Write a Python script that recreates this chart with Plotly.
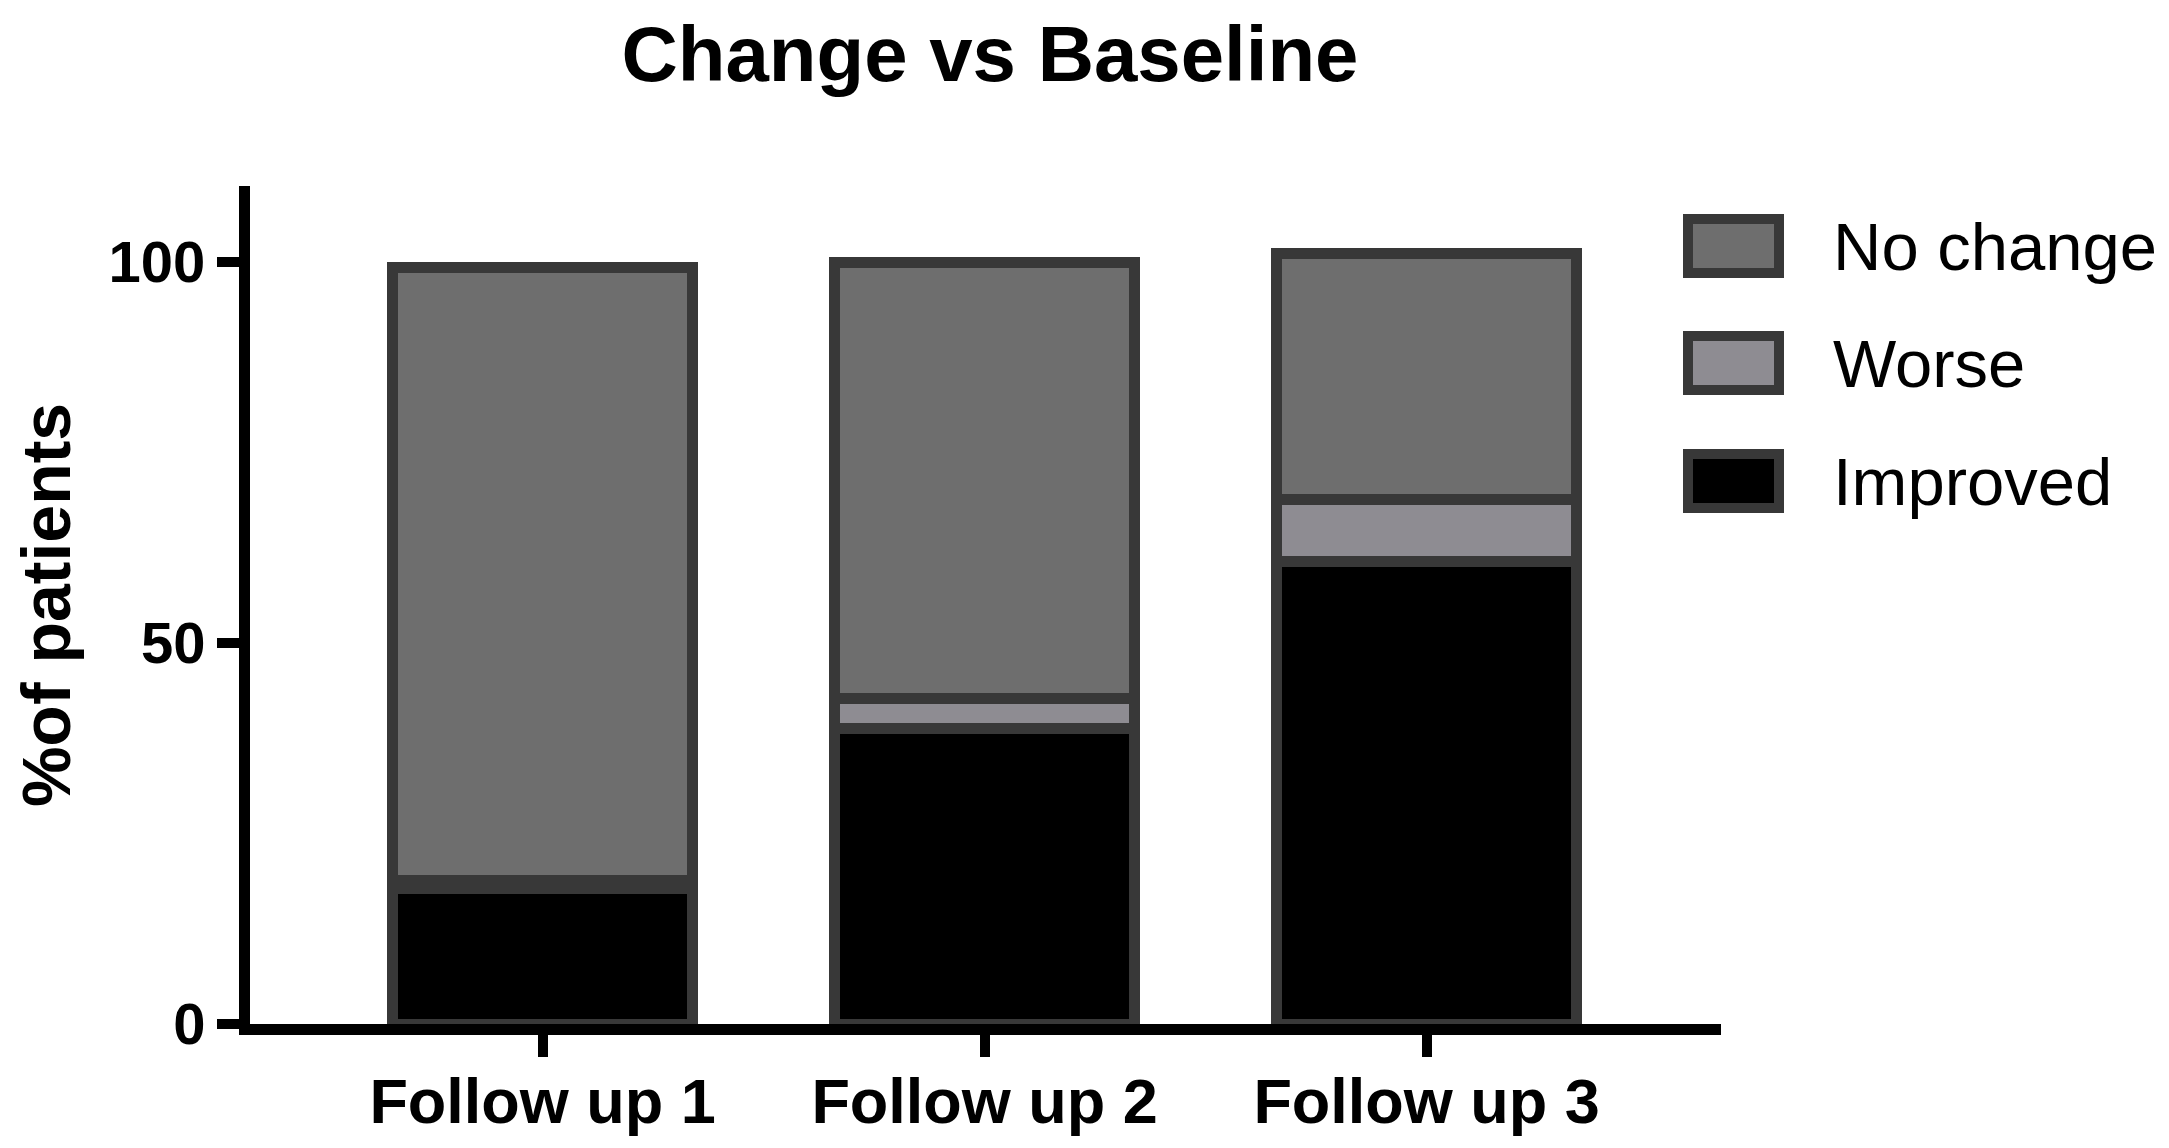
import plotly.graph_objects as go

# data (% of patients)
followups = ['Follow up 1', 'Follow up 2', 'Follow up 3']
improved = [17.8, 38.8, 60.7]
worse = [1.0, 3.9, 8.2]
no_change = [80.5, 57.3, 32.2]

y_ticks = [0, 50, 100]

series = [
    ('Improved', improved, '#000000'),
    ('Worse', worse, '#8e8c92'),
    ('No change', no_change, '#6e6e6e'),
]
edge = '#383838'
font = 'Liberation Sans, Arial, Helvetica, sans-serif'

W, H = 2169, 1148
L, R, T, B = 242, 456, 178, 132

fig = go.Figure()
for name, vals, col in series:
    fig.add_trace(go.Bar(
        x=followups, y=vals, name=name,
        marker=dict(color=col, line=dict(color=edge, width=11)),
        showlegend=False,
    ))


def px_x(p):
    return (p - L) / (W - L - R)


def px_y(p):
    return (H - B - p) / (H - T - B)


# legend drawn by hand so the swatches match the big boxes of the original
legend_rows = [('No change', '#6e6e6e', 238), ('Worse', '#8e8c92', 355), ('Improved', '#000000', 473)]
for name, col, cy in legend_rows:
    fig.add_shape(type='rect', xref='paper', yref='paper',
                  x0=px_x(1680), x1=px_x(1771), y0=px_y(cy + 27), y1=px_y(cy - 27),
                  fillcolor=col, line=dict(color=edge, width=10))
    fig.add_annotation(xref='paper', yref='paper', x=px_x(1823), y=px_y(cy),
                       text=name, showarrow=False, xanchor='left', yanchor='middle',
                       font=dict(family=font, size=67, color='#000000'))

fig.update_layout(
    width=W, height=H,
    margin=dict(l=L, r=R, t=T, b=B),
    paper_bgcolor='white', plot_bgcolor='white',
    barmode='stack', bargap=0.32,
    title=dict(text='Change vs Baseline', x=px_x(982), xref='paper', xanchor='center',
               y=1 - 46 / H, yref='container', yanchor='middle',
               font=dict(family=font, size=78, color='#000000', weight='bold')),
    font=dict(family=font, color='#000000'),
)
fig.update_xaxes(
    range=[-0.662, 2.666], showline=True, linecolor='#000000', linewidth=11,
    ticks='outside', ticklen=22, tickwidth=10, tickcolor='#000000',
    ticklabelstandoff=-10,
    tickfont=dict(family=font, size=63, weight='bold'), showgrid=False, zeroline=False,
)
fig.update_yaxes(
    range=[0, 110], tickvals=y_ticks, showline=True, linecolor='#000000', linewidth=11,
    ticks='outside', ticklen=22, tickwidth=10, tickcolor='#000000',
    tickfont=dict(family=font, size=58, weight='bold'), showgrid=False, zeroline=False,
    title=dict(text='%of patients', standoff=28,
               font=dict(family=font, size=68, weight='bold')),
)

fig.write_html('out.html')
